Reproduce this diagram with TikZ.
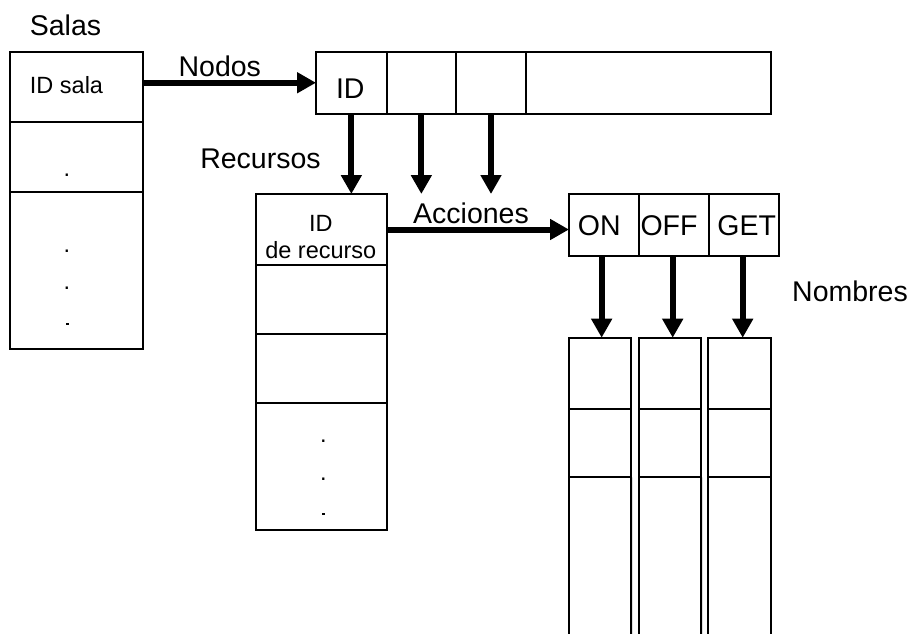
\documentclass[tikz,border=0pt]{standalone}
\usepackage{fontspec}
\setmainfont{Liberation Sans}
\usetikzlibrary{arrows.meta}
\begin{document}
\begin{tikzpicture}[x=1pt,y=-1pt,
  cell/.style={draw, line width=2pt, anchor=north west, inner sep=0pt, outer sep=0pt},
  big/.style={font=\fontsize{28.5}{30}\selectfont, inner sep=0pt, anchor=base},
  small/.style={font=\fontsize{23.5}{25}\selectfont, inner sep=0pt, anchor=base},
  conn/.style={line width=6pt, -{Triangle[length=19pt,width=20pt]}},
  dashmark/.style={fill=black, inner sep=0pt, minimum width=3pt, minimum height=1.4pt, draw=none}]
\useasboundingbox (0,0) rectangle (912,633);

% Salas
\node[big] (tsalas) at (65.5,35) {Salas};
\node[cell, minimum width=133pt, minimum height=70pt] (s1) at (9.5,52) {};
\node[cell, minimum width=133pt, minimum height=70pt] (s2) at (9.5,122) {};
\node[cell, minimum width=133pt, minimum height=157pt] (s3) at (9.5,192) {};
\node[small] (tidsala) at (66.5,93.3) {ID sala};
\node[small] (sd1) at (67,176.7) {.};
\node[small] (sd2) at (67,252.5) {.};
\node[small] (sd3) at (67,289.5) {.};
\node[dashmark] (sd4) at (67,324) {};

% Nodos
\node[cell, minimum width=70.7pt, minimum height=61.5pt] (n1) at (316,52) {};
\node[cell, minimum width=69.3pt, minimum height=61.5pt] (n2) at (386.7,52) {};
\node[cell, minimum width=70pt, minimum height=61.5pt] (n3) at (456,52) {};
\node[cell, minimum width=244.7pt, minimum height=61.5pt] (n4) at (526,52) {};
\node[big] (tid) at (350.3,98.3) {ID};
\node[big] (tnodos) at (219.8,76.7) {Nodos};

% Recursos
\node[big] (trec) at (260.5,168.3) {Recursos};
\node[cell, minimum width=130.7pt, minimum height=71pt] (r1) at (256,194) {};
\node[cell, minimum width=130.7pt, minimum height=69pt] (r2) at (256,265) {};
\node[cell, minimum width=130.7pt, minimum height=69.3pt] (r3) at (256,334) {};
\node[cell, minimum width=130.7pt, minimum height=126.7pt] (r4) at (256,403.3) {};
\node[small] (tid2) at (320.8,231.7) {ID};
\node[small] (tderec) at (320.8,258.3) {de recurso};
\node[small] (rd1) at (323.3,442.7) {.};
\node[small] (rd2) at (323.3,480) {.};
\node[dashmark] (rd3) at (323.3,514) {};

% Acciones
\node[big] (tacc) at (471,223.3) {Acciones};
\node[cell, minimum width=70.3pt, minimum height=61.7pt] (a1) at (569,194) {};
\node[cell, minimum width=70pt, minimum height=61.7pt] (a2) at (639.3,194) {};
\node[cell, minimum width=69.4pt, minimum height=61.7pt] (a3) at (709.3,194) {};
\node[big] (ton) at (599.3,235.7) {ON};
\node[big] (toff) at (669,235.7) {OFF};
\node[big] (tget) at (746.7,235.7) {GET};

% Nombres
\node[big] (tnom) at (850,301) {Nombres};
\node[cell, minimum width=61.7pt, minimum height=71.3pt] (c1a) at (569.3,337.7) {};
\node[cell, minimum width=61.7pt, minimum height=68.3pt] (c1b) at (569.3,409) {};
\node[cell, minimum width=61.7pt, minimum height=71.3pt] (c2a) at (639.3,337.7) {};
\node[cell, minimum width=61.7pt, minimum height=68.3pt] (c2b) at (639.3,409) {};
\node[cell, minimum width=62.4pt, minimum height=71.3pt] (c3a) at (708.3,337.7) {};
\node[cell, minimum width=62.4pt, minimum height=68.3pt] (c3b) at (708.3,409) {};
\coordinate (c1bl) at (569.3,645);
\coordinate (c1br) at (631,645);
\coordinate (c2bl) at (639.3,645);
\coordinate (c2br) at (701,645);
\coordinate (c3bl) at (708.3,645);
\coordinate (c3br) at (770.7,645);
\draw[line width=2pt] (c1b.south west) -- (c1bl);
\draw[line width=2pt] (c1b.south east) -- (c1br);
\draw[line width=2pt] (c2b.south west) -- (c2bl);
\draw[line width=2pt] (c2b.south east) -- (c2br);
\draw[line width=2pt] (c3b.south west) -- (c3bl);
\draw[line width=2pt] (c3b.south east) -- (c3br);

% Connectors
\draw[conn] (s1.east |- n1.west) -- (n1.west);
\draw[conn] (n1.south) -- (n1.south |- r1.north);
\draw[conn] (n2.south) -- (n2.south |- r1.north);
\draw[conn] (n3.south) -- (n3.south |- r1.north);
\draw[conn] (r1.east) -- (r1.east -| a1.west);
\draw[conn] ([xshift=-2.5pt]a1.south) -- ([xshift=-2.5pt]a1.south |- c1a.north);
\draw[conn] ([xshift=-1.6pt]a2.south) -- ([xshift=-1.6pt]a2.south |- c2a.north);
\draw[conn] ([xshift=-1.3pt]a3.south) -- ([xshift=-1.3pt]a3.south |- c3a.north);
\end{tikzpicture}
\end{document}
